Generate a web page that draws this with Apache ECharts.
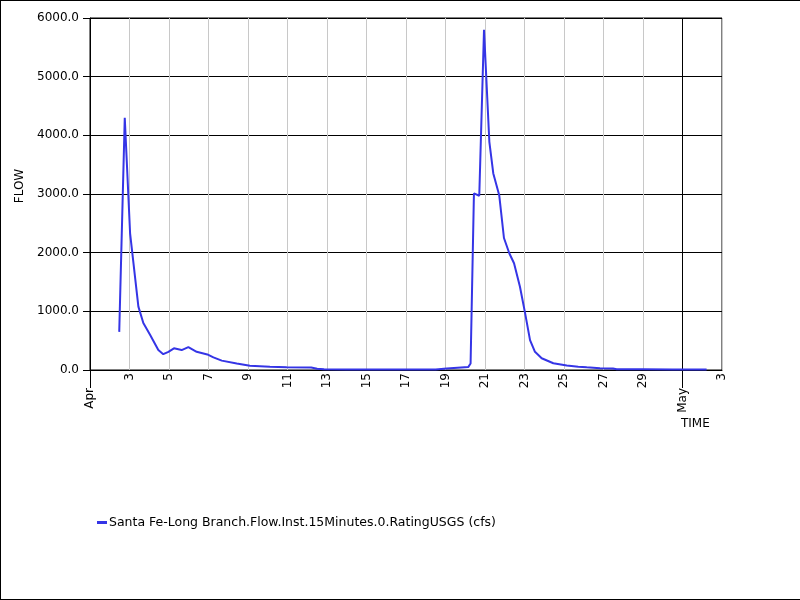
<!DOCTYPE html>
<html>
<head>
<meta charset="utf-8">
<script src="https://cdn.jsdelivr.net/npm/echarts@6/dist/echarts.min.js"></script>
<style>
html,body{margin:0;padding:0;background:#fff;}
#wrap{position:relative;width:800px;height:600px;}
#c{position:absolute;left:0;top:0;width:800px;height:600px;}
#frame{position:absolute;left:0;top:0;width:800px;height:600px;box-sizing:border-box;border-left:1px solid #000;border-top:1px solid #000;border-bottom:1px solid #000;pointer-events:none;}
</style>
</head>
<body>
<div id="wrap"><div id="c"></div><div id="frame"></div></div>
<script>
// Days since Apr 1 (fractional) and flow values (cfs)
var dayOffsets = [1.48, 1.76, 2.03, 2.45, 2.70, 3.04, 3.46, 3.71, 3.97, 4.25, 4.64, 4.98, 5.40, 5.94, 6.25, 6.67, 7.43, 8.10, 9.11, 9.96, 11.20, 11.50, 11.85, 13.0, 14.5, 16.0, 17.5, 18.06, 19.15, 19.27, 19.44, 19.71, 19.95, 20.22, 20.42, 20.72, 20.96, 21.23, 21.47, 21.77, 22.03, 22.28, 22.53, 22.87, 23.46, 24.14, 24.72, 25.15, 25.82, 26.48, 26.67, 28.0, 29.5, 31.22];
var flowValues = [650, 4300, 2330, 1080, 800, 600, 340, 270, 310, 370, 340, 390, 310, 265, 215, 160, 110, 74, 57, 45, 44, 23, 11, 9, 8, 8, 8, 25, 50, 110, 3010, 2970, 5800, 3890, 3350, 2980, 2250, 1990, 1820, 1420, 970, 510, 310, 200, 115, 75, 57, 45, 30, 25, 12, 11, 10, 10];
var seriesName = 'Santa Fe-Long Branch.Flow.Inst.15Minutes.0.RatingUSGS (cfs)';
var monthTicks = [0, 30];
var monthLabels = ['Apr', 'May'];
var yTicks = [0, 1000, 2000, 3000, 4000, 5000, 6000];

var font = 'DejaVu Sans';
var data = dayOffsets.map(function (d, i) { return [d, flowValues[i]]; });

function dayLabel(v) {
  if (v === 0 || v === 30) return '';
  if (v < 30) return String(v + 1);
  return String(v - 29);
}

var chart = echarts.init(document.getElementById('c'), null, {renderer: 'canvas'});
chart.setOption({
  animation: false,
  backgroundColor: '#fff',
  title: {
    text: 'TIME', left: 676, top: 413,
    textStyle: {fontFamily: font, fontSize: 12, fontWeight: 'normal', color: '#000'}
  },
  grid: {left: 90, top: 18, right: 78, bottom: 230, show: true, borderColor: '#000', borderWidth: 1, backgroundColor: 'transparent', containLabel: false},
  legend: {
    data: [seriesName], left: 92, top: 511, icon: 'rect', itemWidth: 10, itemHeight: 3,
    textStyle: {fontFamily: font, fontSize: 12.5, color: '#000', padding: [0, 0, 0, -3]}
  },
  xAxis: [{
    type: 'value', min: 0, max: 32, interval: 2,
    axisLine: {show: true, lineStyle: {color: '#000', width: 1}},
    axisTick: {show: false},
    axisLabel: {rotate: 90, margin: 3, formatter: dayLabel, fontFamily: font, fontSize: 12, color: '#000', showMinLabel: true, showMaxLabel: true, hideOverlap: false},
    splitLine: {show: true, lineStyle: {color: '#c8c8c8', width: 1}}
  }, {
    type: 'value', min: 0, max: 32, position: 'bottom', gridIndex: 0,
    axisLine: {show: false},
    axisTick: {show: true, customValues: monthTicks, length: 18, lineStyle: {color: '#000', width: 1}},
    axisLabel: {rotate: 90, margin: 18, customValues: monthTicks, formatter: function (v) { return monthLabels[monthTicks.indexOf(v)] || ''; }, fontFamily: font, fontSize: 12, color: '#000'},
    splitLine: {show: true, lineStyle: {color: '#000', width: 1}}
  }],
  yAxis: {
    type: 'value', min: yTicks[0], max: yTicks[yTicks.length - 1], interval: 1000,
    name: 'FLOW', nameLocation: 'middle', nameGap: 60,
    nameTextStyle: {fontFamily: font, fontSize: 12, color: '#000', padding: [0, 0, 0, 16]},
    axisLine: {show: true, lineStyle: {color: '#000'}},
    axisTick: {show: true, length: 7, lineStyle: {color: '#000'}},
    axisLabel: {margin: 11, formatter: function (v) { return v.toFixed(1); }, fontFamily: font, fontSize: 12, color: '#000'},
    splitLine: {show: true, lineStyle: {color: '#000', width: 1}}
  },
  series: [{
    name: seriesName, type: 'line', xAxisIndex: 0, data: data,
    showSymbol: false, symbol: 'none',
    lineStyle: {color: '#3535e6', width: 2}, itemStyle: {color: '#3535e6'}
  }]
});
</script>
</body>
</html>
